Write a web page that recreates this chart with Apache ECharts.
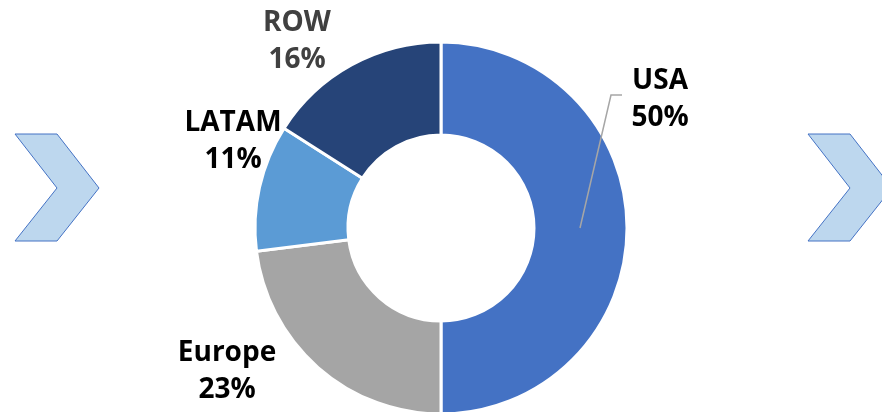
<!DOCTYPE html>
<html>
<head>
<meta charset="utf-8">
<script src="https://cdn.jsdelivr.net/npm/echarts@6/dist/echarts.min.js"></script>
<style>
  html, body { margin: 0; padding: 0; background: #fff; }
  #main { width: 882px; height: 412px; }
</style>
</head>
<body>
<div id="main"></div>
<script>
var regions = ['USA', 'Europe', 'LATAM', 'ROW'];
var shares = [50, 23, 11, 16];
var colors = ['#4472C4', '#A5A5A5', '#5B9BD5', '#264478'];
var labelColors = ['#000', '#000', '#000', '#404040'];

// label centres, same order as regions
var labelPos = [[660, 100], [227, 372], [233, 142], [297, 42]];

var myChart = echarts.init(document.getElementById('main'));

// chevron outline
function chevron (dx) {
  return {
    type: 'polygon',
    shape: {
      points: [[15 + dx, 134], [57 + dx, 134], [99 + dx, 188], [57 + dx, 241], [15 + dx, 241], [57 + dx, 188]]
    },
    style: { fill: '#BDD7EE', stroke: '#4472C4', lineWidth: 1 }
  };
}

var pieData = [];
for (var i = 0; i < regions.length; i++) {
  pieData.push({
    name: regions[i],
    value: shares[i],
    itemStyle: { color: colors[i] },
    label: { color: labelColors[i] }
  });
}

var option = {
  animation: false,
  graphic: [
    chevron(0),
    chevron(793),
    // leader line for USA, drawn on top of the slice
    {
      type: 'polyline',
      z: 100,
      shape: { points: [[580, 228], [611, 95], [622, 95]] },
      style: { stroke: '#A6A6A6', lineWidth: 1.5, fill: null }
    }
  ],
  series: [
    {
      type: 'pie',
      center: [441, 228],
      radius: [93, 186],
      startAngle: 90,
      clockwise: true,
      avoidLabelOverlap: false,
      itemStyle: { borderColor: '#fff', borderWidth: 3 },
      label: {
        show: true,
        formatter: '{b}\n{c}%',
        fontFamily: 'Open Sans',
        fontWeight: 'bold',
        fontSize: 28,
        lineHeight: 37
      },
      labelLine: { show: false },
      labelLayout: function (params) {
        var p = labelPos[params.dataIndex];
        return { x: p[0], y: p[1], align: 'center', verticalAlign: 'middle' };
      },
      data: pieData
    }
  ]
};

myChart.setOption(option);
</script>
</body>
</html>
